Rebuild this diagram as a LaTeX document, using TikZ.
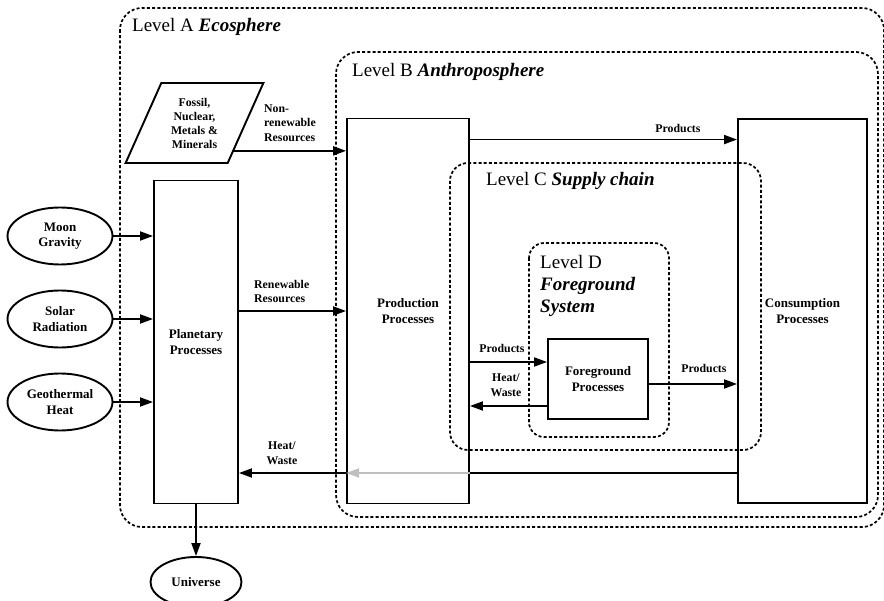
\documentclass[tikz,border=0pt]{standalone}
\usepackage{fontspec}
\setmainfont{Liberation Serif}
\usetikzlibrary{shapes,arrows.meta,positioning,calc}

\begin{document}
\begin{tikzpicture}[x=1pt,y=-1pt,
    proc/.style={draw, line width=1.9pt, align=center, inner sep=0pt, font=\fontsize{13}{15.5}\selectfont\bfseries},
    src/.style={draw, ellipse, line width=1.9pt, minimum width=105pt, minimum height=57pt, inner sep=0pt, align=center, font=\fontsize{13}{15.5}\selectfont\bfseries},
    level/.style={draw, dash pattern=on 3pt off 2.2pt, line width=1.7pt},
    title/.style={inner sep=0pt, font=\fontsize{19}{22}\selectfont},
    flow/.style={line width=1.9pt, -{Triangle[length=13pt,width=9pt]}},
    lbl/.style={font=\fontsize{11.8}{14.5}\selectfont\bfseries, inner sep=0pt}]
    \useasboundingbox (0,0) rectangle (884,601);

    % level frames
    \draw[level, rounded corners=22pt] (120,8) rectangle (884,527);
    \draw[level, rounded corners=22pt] (336,52) rectangle (878,517);
    \draw[level, rounded corners=18pt] (450,163) rectangle (761,450);
    \draw[level, rounded corners=15pt] (529,243) rectangle (669,437);
    \node[title, anchor=base west] (lvA) at (132,32) {Level A \textbf{\textit{Ecosphere}}};
    \node[title, anchor=base west] (lvB) at (352,77) {Level B \textbf{\textit{Anthroposphere}}};
    \node[title, anchor=base west] (lvC) at (486,186) {Level C \textbf{\textit{Supply chain}}};
    \node[title, anchor=north west, align=left] (lvD) at (540,255) {Level D\\\textbf{\textit{Foreground}}\\\textbf{\textit{System}}};

    % process boxes
    \node[proc, minimum width=84pt, minimum height=323pt] (planet) at (196,342) {Planetary\\Processes};
    \node[proc, minimum width=122pt, minimum height=385pt] (prod) at (408,311) {Production\\Processes};
    \node[proc, minimum width=129pt, minimum height=384pt] (cons) at (802.5,311) {Consumption\\Processes};
    \node[proc, minimum width=100pt, minimum height=80pt] (fg) at (598,379) {Foreground\\Processes};

    % sources and sink
    \node[src] (moon) at (60,236) {Moon\\Gravity};
    \node[src] (solar) at (60,319) {Solar\\Radiation};
    \node[src] (geo) at (60,402) {Geothermal\\Heat};
    \node[src, minimum width=91pt, minimum height=50pt] (universe) at (196,582) {Universe};
    \node[draw, trapezium, trapezium left angle=63.4, trapezium right angle=116.6,
        trapezium stretches=true, minimum width=139pt, minimum height=80pt, inner sep=0pt,
        line width=1.9pt, align=center, font=\fontsize{11.8}{14}\selectfont\bfseries] (fossil) at (194.5,123)
        {Fossil,\\Nuclear,\\Metals \&\\Minerals};

    % flows into the planet
    \draw[flow] (moon.east) -- (moon.east -| planet.west);
    \draw[flow] (solar.east) -- (solar.east -| planet.west);
    \draw[flow] (geo.east) -- (geo.east -| planet.west);
    \draw[flow] (planet.south) -- (universe.north);

    % resources
    \coordinate (nr) at ($(fossil.top right corner)!0.84!(fossil.bottom right corner)$);
    \draw[flow] (nr) -- (nr -| prod.west);
    \node[lbl, anchor=north west, align=left] (nrlbl) at (264,104.5) {Non-\\renewable\\Resources};
    \draw[flow] (prod.west -| planet.east) -- (prod.west);
    \node[lbl, anchor=north west, align=left] (rlbl) at (254,280) {Renewable\\Resources};

    % products
    \draw[flow] ([yshift=-22pt]prod.north east) -- ([yshift=-22pt]prod.north east -| cons.west);
    \node[lbl, anchor=base] (p1) at (678,133) {Products};
    \draw[flow] ([yshift=17pt]fg.west -| prod.east) -- ([yshift=17pt]fg.west);
    \node[lbl, anchor=base] (p2) at (502,353) {Products};
    \draw[flow] ([yshift=-27pt]fg.west) -- ([yshift=-27pt]fg.west -| prod.east);
    \node[lbl, anchor=north, align=center] (hw1) at (506,374) {Heat/\\Waste};
    \draw[flow] ([yshift=-5pt]fg.east) -- ([yshift=-5pt]fg.east -| cons.west);
    \node[lbl, anchor=base] (p3) at (704,373) {Products};

    % heat and waste back to the planet
    \coordinate (hw) at ([yshift=-162pt]cons.west);
    \draw[line width=1.9pt] (hw) -- (hw -| prod.east);
    \draw[flow, gray!50] (hw -| prod.east) -- (hw -| prod.west);
    \draw[flow] (hw -| prod.west) -- (hw -| planet.east);
    \node[lbl, anchor=north, align=center] (hw2) at (282,442) {Heat/\\Waste};
\end{tikzpicture}
\end{document}
